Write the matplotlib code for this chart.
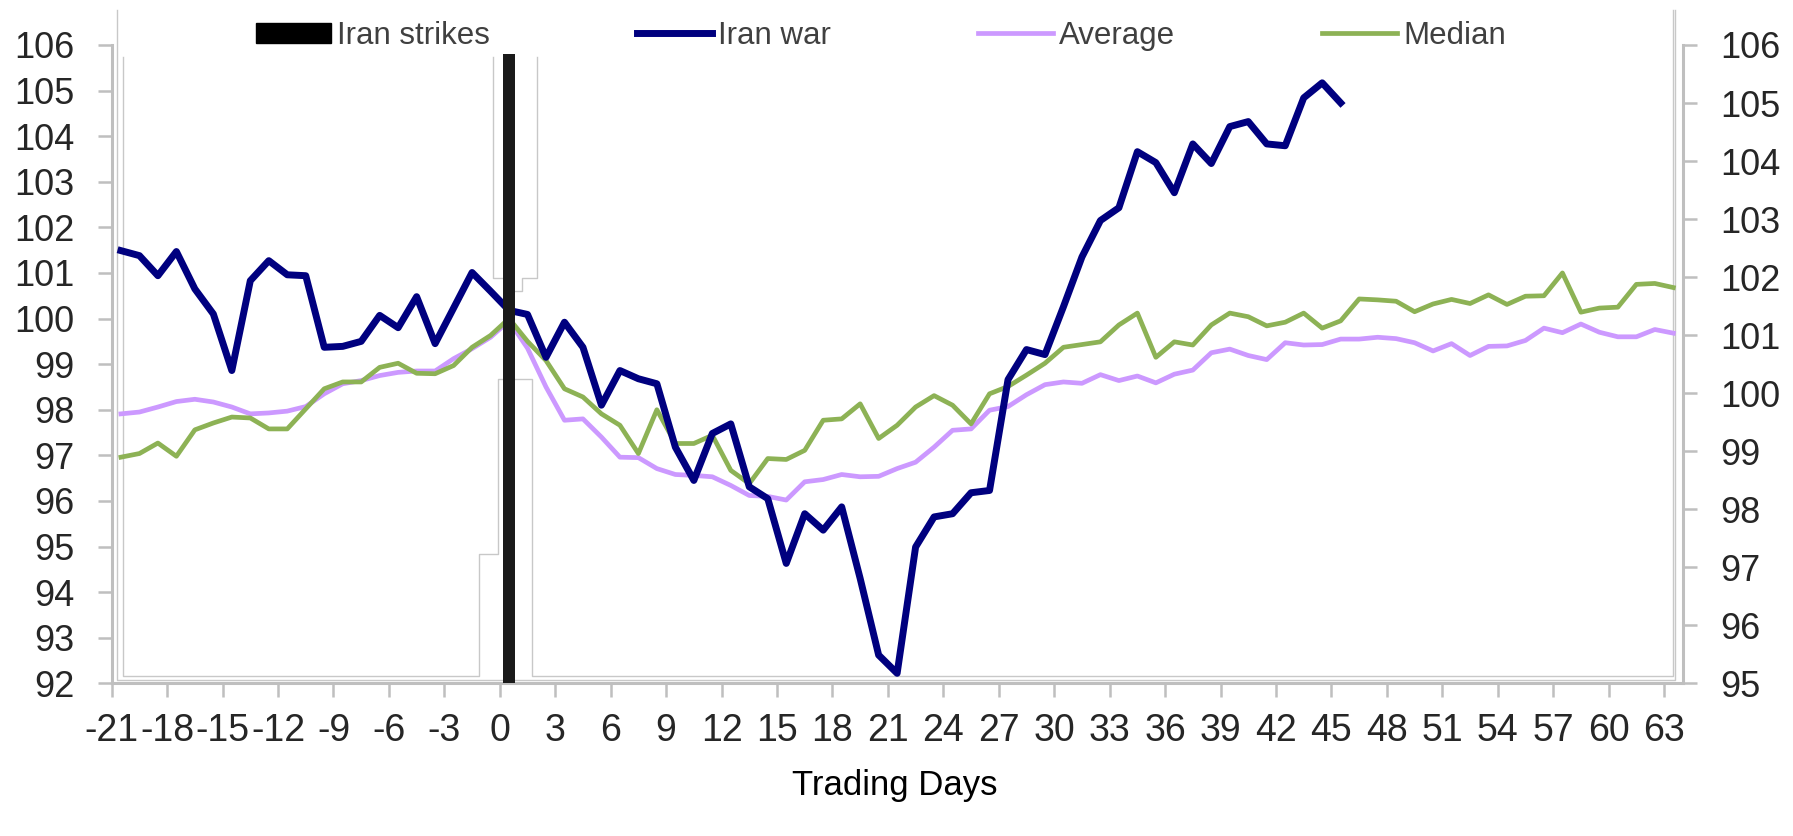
import numpy as np
import matplotlib
matplotlib.use("Agg")
import matplotlib.pyplot as plt
from matplotlib.patches import Patch
from matplotlib.lines import Line2D

plt.rcParams['font.family'] = ['Liberation Sans', 'DejaVu Sans']

# ---- data ------------------------------------------------------------
days = np.arange(-21, 64)          # trading days, average / median
war_days = np.arange(-21, 46)      # trading days, Iran war

iran_war = [101.49, 101.38, 100.94, 101.47, 100.65, 100.10, 98.86, 100.83, 101.27, 100.96,
            100.94, 99.37, 99.39, 99.50, 100.07, 99.80, 100.48, 99.45, 100.23, 101.01,
            100.60, 100.18, 100.09, 99.15, 99.92, 99.37, 98.10, 98.86, 98.68, 98.57,
            97.18, 96.45, 97.48, 97.69, 96.31, 96.05, 94.63, 95.72, 95.36, 95.87,
            94.30, 92.62, 92.22, 94.99, 95.65, 95.72, 96.18, 96.23, 98.66, 99.32,
            99.21, 100.26, 101.35, 102.15, 102.43, 103.66, 103.42, 102.76, 103.83, 103.40,
            104.21, 104.32, 103.83, 103.79, 104.84, 105.17, 104.73]

average = [97.91, 97.95, 98.06, 98.18, 98.23, 98.17, 98.06, 97.91, 97.93, 97.97,
           98.07, 98.35, 98.57, 98.64, 98.75, 98.82, 98.85, 98.85, 99.12, 99.34,
           99.59, 99.95, 99.35, 98.50, 97.77, 97.80, 97.40, 96.96, 96.95, 96.71,
           96.58, 96.56, 96.53, 96.34, 96.12, 96.10, 96.02, 96.42, 96.47, 96.58,
           96.53, 96.54, 96.71, 96.85, 97.18, 97.55, 97.58, 97.99, 98.07, 98.33,
           98.55, 98.61, 98.58, 98.77, 98.64, 98.74, 98.59, 98.78, 98.87, 99.25,
           99.33, 99.19, 99.10, 99.47, 99.42, 99.43, 99.55, 99.55, 99.59, 99.56,
           99.47, 99.29, 99.45, 99.19, 99.39, 99.40, 99.52, 99.79, 99.69, 99.88,
           99.70, 99.60, 99.60, 99.76, 99.68]

median = [96.96, 97.04, 97.27, 96.98, 97.56, 97.71, 97.84, 97.82, 97.58, 97.58,
          98.02, 98.46, 98.61, 98.61, 98.93, 99.02, 98.80, 98.79, 98.97, 99.37,
          99.63, 100.00, 99.50, 99.08, 98.46, 98.28, 97.91, 97.66, 97.04, 98.00,
          97.26, 97.26, 97.44, 96.67, 96.38, 96.93, 96.91, 97.11, 97.77, 97.80,
          98.13, 97.37, 97.66, 98.06, 98.31, 98.10, 97.69, 98.35, 98.51, 98.76,
          99.02, 99.37, 99.43, 99.49, 99.86, 100.12, 99.15, 99.49, 99.42, 99.86,
          100.12, 100.04, 99.84, 99.92, 100.12, 99.79, 99.95, 100.43, 100.41, 100.38,
          100.15, 100.32, 100.42, 100.33, 100.52, 100.31, 100.49, 100.50, 101.00, 100.14,
          100.23, 100.25, 100.75, 100.77, 100.68]

strike_day = [0]
strike_top = [105.8]

x_ticks = np.arange(-21, 64, 3)
left_ticks = np.arange(92, 107)
right_ticks = np.arange(95, 107)

# ---- style -----------------------------------------------------------
NAVY = '#00007f'
PURPLE = '#cc99ff'
GREEN = '#8db255'
BAR = '#1a1a1a'
AXIS = '#bfbfbf'
FRAME = '#c8c8c8'
TXT = '#262626'

fig = plt.figure(figsize=(17.93, 8.36), dpi=100)
ax = fig.add_axes([0.0623, 0.1826, 0.8761, 0.7636])
ax.set_xlim(-21.5, 63.5)
ax.set_ylim(92, 106)

# faint plot-area outlines (chart frame with a notch around the strike bar)
frame_kw = dict(color=FRAME, lw=1.0, clip_on=False, zorder=0.5)
ax.plot([-21.23, -21.23, 63.08, 63.08], [106.77, 92.07, 92.07, 106.77], **frame_kw)
ax.plot([-20.9, -20.9, -1.61, -1.61, -0.61, -0.61, -0.3],
        [105.74, 92.16, 92.16, 94.84, 94.84, 98.67, 98.67], **frame_kw)
ax.plot([-0.85, -0.85, -0.3], [105.74, 100.9, 100.9], **frame_kw)
ax.plot([1.53, 1.53, 0.69, 0.69, 0.3], [105.74, 100.9, 100.9, 100.61, 100.61], **frame_kw)
ax.plot([0.3, 1.22, 1.22, 62.97, 62.97], [98.67, 98.67, 92.16, 92.16, 106.77], **frame_kw)

ax.plot(days, average, color=PURPLE, lw=3.4, zorder=2)
ax.plot(days, median, color=GREEN, lw=3.4, zorder=3)
ax.plot(war_days, iran_war, color=NAVY, lw=5.0, zorder=4)
ax.bar(strike_day, np.array(strike_top) - 92, bottom=92, width=0.64, color=BAR, zorder=5)

ax.set_xticks(x_ticks - 0.5)
ax.set_xticklabels([str(d) for d in x_ticks], fontsize=27, color=TXT)
ax.set_yticks(left_ticks)
ax.set_yticklabels([str(v) for v in left_ticks], fontsize=26, color=TXT)
ax.tick_params(axis='x', length=10, width=1.8, color=AXIS, pad=11)
ax.tick_params(axis='y', length=10, width=1.8, color=AXIS, pad=17)
for side in ['top', 'right']:
    ax.spines[side].set_visible(False)
for side in ['left', 'bottom']:
    ax.spines[side].set_color(AXIS)
    ax.spines[side].set_linewidth(2.2)

ax2 = ax.twinx()
ax2.set_ylim(95, 106)
ax2.set_yticks(right_ticks)
ax2.set_yticklabels([str(v) for v in right_ticks], fontsize=26, color=TXT)
ax2.tick_params(axis='y', length=10, width=1.8, color=AXIS, pad=17)
for side in ['top', 'left', 'bottom']:
    ax2.spines[side].set_visible(False)
ax2.spines['right'].set_color(AXIS)
ax2.spines['right'].set_linewidth(2.2)

handles = [Patch(facecolor='black', edgecolor='black'),
           Line2D([], [], color=NAVY, lw=5.0),
           Line2D([], [], color=PURPLE, lw=3.4),
           Line2D([], [], color=GREEN, lw=3.4)]
labels = ['Iran strikes', 'Iran war', 'Average', 'Median']
fig.legend(handles, labels, loc='center', bbox_to_anchor=(0.4915, 0.957), ncol=4,
           frameon=False, fontsize=22.5, labelcolor='#404040', handlelength=2.4,
           handleheight=0.6, handletextpad=0.2, columnspacing=4.7)

fig.text(0.4988, 0.061, 'Trading Days', ha='center', va='center', fontsize=25,
         color='black')

fig.savefig('out.png', dpi=100)
